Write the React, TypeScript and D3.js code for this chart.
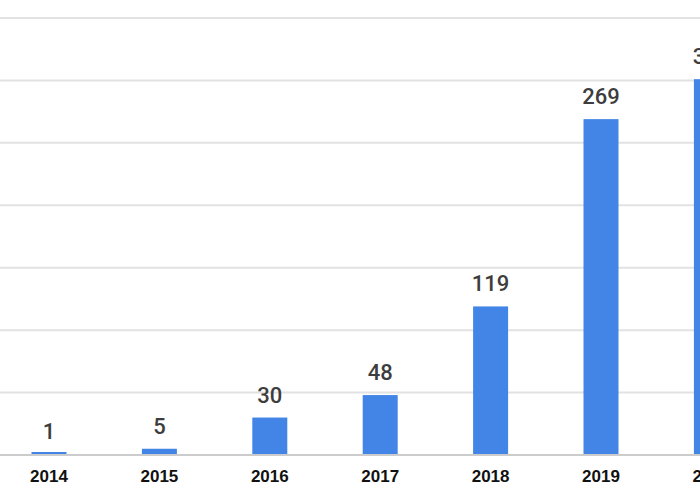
import * as d3 from 'd3';
import { useRef, useEffect } from "react"

const years = ["2014", "2015", "2016", "2017", "2018", "2019", "2020"]
const counts = [1, 5, 30, 48, 119, 269, 301]
const gridValues = [0, 50, 100, 150, 200, 250, 300, 350]

function App() {
    const ref = useRef<SVGSVGElement | null>(null)

    useEffect(() => {
        renderChart();
    }, [])

    function renderChart() {
        const width = 700
        const height = 500

        const svg = d3.select(ref.current!)
        svg.selectAll("*").remove()

        // x: bands of ~110px, 35px wide bars
        const x = d3.scaleBand<string>()
            .domain(years)
            .range([-6.2, 766.6])
            .paddingInner(0.683)
            .paddingOuter(0.3415)

        const y = d3.scaleLinear()
            .domain([0, 350])
            .range([455, 18])

        // grid lines
        svg.append("g")
            .selectAll("line")
            .data(gridValues)
            .enter()
            .append("line")
            .attr("x1", 0)
            .attr("x2", width)
            .attr("y1", d => y(d))
            .attr("y2", d => y(d))
            .attr("stroke", d => d === 0 ? "#cccccc" : "#e2e2e2")
            .attr("stroke-width", 2)

        // bars (keep the tiny ones visible above the base line)
        svg.append("g")
            .selectAll("rect")
            .data(counts)
            .enter()
            .append("rect")
            .attr("x", (_d, i) => x(years[i])!)
            .attr("y", d => Math.min(y(d), y(0) - 3))
            .attr("width", x.bandwidth())
            .attr("height", d => Math.max(2, y(0) - y(d) - 1))
            .attr("fill", "#4285e6")

        // value labels
        svg.append("g")
            .selectAll("text")
            .data(counts)
            .enter()
            .append("text")
            .attr("x", (_d, i) => x(years[i])! + x.bandwidth() / 2)
            .attr("y", d => y(d) - 15)
            .attr("text-anchor", "middle")
            .style("font-family", "Roboto, sans-serif")
            .style("font-size", "22px")
            .style("font-weight", 500)
            .style("fill", "#3d3d3d")
            .text(d => d)

        // year labels
        svg.append("g")
            .selectAll("text")
            .data(years)
            .enter()
            .append("text")
            .attr("x", d => x(d)! + x.bandwidth() / 2)
            .attr("y", 482)
            .attr("text-anchor", "middle")
            .style("font-family", "'Liberation Sans', Arial, sans-serif")
            .style("font-size", "17px")
            .style("font-weight", "bold")
            .style("fill", "#111")
            .text(d => d)

        svg.attr("width", width).attr("height", height)
    }

    return (
        <div style={{ position: 'fixed', top: 0, left: 0, width: 700, height: 500, background: '#fff' }}>
            <svg width={700} height={500} ref={ref} style={{ display: 'block' }} />
        </div>
    )
}

export default App;
